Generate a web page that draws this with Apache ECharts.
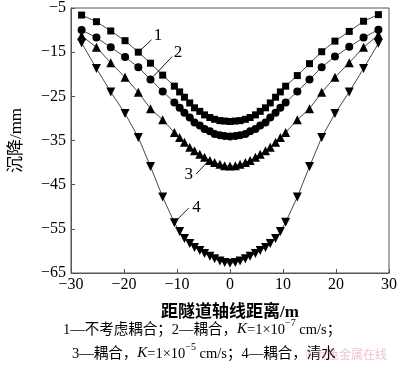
<!DOCTYPE html>
<html>
<head>
<meta charset="utf-8">
<script src="https://cdn.jsdelivr.net/npm/echarts@6/dist/echarts.min.js"></script>
<style>
html,body{margin:0;padding:0;background:#fff;}
#main{width:400px;height:365px;}
</style>
</head>
<body>
<div id="main"></div>
<script>
var xs = [-28, -25.2, -22.5, -19.8, -17.3, -15, -12.7, -10.5, -9.5, -8.6, -7.6, -6.7, -5.7, -4.8, -3.8, -2.9, -1.9, -1.0, 0, 1.0, 1.9, 2.9, 3.8, 4.8, 5.7, 6.7, 7.6, 8.6, 9.5, 10.5, 12.7, 15, 17.3, 19.8, 22.5, 25.2, 28];
var s1 = [-6.6, -8.1, -10.2, -12.4, -15.0, -17.5, -20.2, -22.7, -24.0, -25.2, -26.5, -27.6, -28.4, -29.2, -29.8, -30.2, -30.5, -30.6, -30.7, -30.6, -30.5, -30.2, -29.8, -29.2, -28.4, -27.6, -26.5, -25.2, -24.0, -22.7, -20.3, -17.6, -14.9, -12.5, -10.3, -8.0, -6.5];
var s2 = [-10.0, -11.7, -13.9, -16.1, -18.4, -21.2, -23.9, -26.4, -27.6, -28.7, -29.8, -30.9, -31.6, -32.4, -32.9, -33.5, -33.8, -34.0, -34.1, -34.0, -33.8, -33.5, -32.9, -32.4, -31.6, -30.9, -29.8, -28.7, -27.6, -26.4, -23.9, -21.2, -18.4, -16.0, -13.8, -11.7, -9.9];
var s3 = [-11.3, -13.9, -17.4, -20.7, -24.1, -27.8, -30.3, -33.2, -34.3, -35.4, -36.5, -37.3, -38.1, -38.8, -39.5, -40.0, -40.4, -40.7, -40.8, -40.7, -40.4, -40.0, -39.5, -38.8, -38.1, -37.3, -36.5, -35.4, -34.3, -33.2, -30.3, -27.8, -24.1, -20.7, -17.4, -13.9, -11.1];
var s4 = [-12.9, -18.7, -24.0, -28.9, -34.3, -40.9, -47.8, -53.6, -55.6, -57.2, -58.3, -59.2, -59.9, -60.6, -61.2, -61.8, -62.3, -62.6, -62.8, -62.6, -62.3, -61.8, -61.2, -60.6, -59.9, -59.2, -58.3, -57.2, -55.6, -53.5, -47.8, -40.9, -34.3, -28.9, -24.0, -18.7, -13.0];
var seriesNames = ['1', '2', '3', '4'];
var xTicks = [-30, -20, -10, 0, 10, 20, 30];
var yTicks = [-65, -55, -45, -35, -25, -15, -5];
// annotation leader lines [start, end] and text anchors in data units
var leaderLines = [
  [[-17.1, -14.8], [-14.8, -12.2]],
  [[-14.4, -20.4], [-10.9, -16.0]],
  [[-6.4, -42.6], [-4.2, -39.8]],
  [[-10.3, -53.3], [-7.8, -50.3]]
];
var leaderText = [[-13.6, -11.3], [-9.8, -15.1], [-7.8, -42.8], [-6.3, -50.2]];
var xName = '距隧道轴线距离/m';
var yName = '沉降/mm';

var serif = '"Times New Roman", "Liberation Serif", "Noto Sans CJK SC", serif';
var cjk = '"Times New Roman", "Liberation Serif", "Noto Sans CJK SC", sans-serif';
function fmt(v){ return (v < 0 ? '\u2212' + Math.abs(v) : String(v)); }
function pairs(ys){ return xs.map(function(x, i){ return [x, ys[i]]; }); }

var symbols = ['rect', 'circle', 'triangle', 'triangle'];
var sizes = [7, 8, 9, 9];
var rotates = [0, 0, 0, 180];
var allData = [s1, s2, s3, s4];

var series = allData.map(function(d, k){
  return {
    name: seriesNames[k],
    type: 'line',
    data: pairs(d),
    symbol: symbols[k],
    symbolSize: sizes[k],
    symbolRotate: rotates[k],
    itemStyle: { color: '#000' },
    lineStyle: { color: '#333', width: 0.9 },
    animation: false,
    z: 3,
    markLine: {
      silent: true,
      symbol: ['none', 'none'],
      animation: false,
      lineStyle: { color: '#000', width: 0.9, type: 'solid' },
      label: { show: false },
      data: [[{ coord: leaderLines[k][0] }, { coord: leaderLines[k][1] }]]
    },
    markPoint: {
      silent: true,
      animation: false,
      symbol: 'circle',
      symbolSize: 0,
      label: { show: true, position: 'inside', color: '#000', fontFamily: serif, fontSize: 17, formatter: seriesNames[k] },
      data: [{ coord: leaderText[k] }]
    }
  };
});

var rich = {
  a: { fontFamily: cjk, fontSize: 14.5, fill: '#000', verticalAlign: 'bottom', lineHeight: 19 },
  i: { fontFamily: serif, fontStyle: 'italic', fontSize: 15, fill: '#000', verticalAlign: 'bottom', lineHeight: 19 },
  s: { fontFamily: serif, fontSize: 10, fill: '#000', verticalAlign: 'top', lineHeight: 19 }
};

var chart = echarts.init(document.getElementById('main'), null, { renderer: 'canvas' });
chart.setOption({
  backgroundColor: '#fff',
  animation: false,
  grid: { left: 56, right: 8, top: 3, bottom: 92, show: true, borderColor: '#555', borderWidth: 1 },
  xAxis: {
    type: 'value', min: -30, max: 30, interval: 10,
    name: xName, nameLocation: 'middle', nameGap: 31,
    nameTextStyle: { fontFamily: cjk, fontSize: 17, fontWeight: 'bold', color: '#000' },
    axisLine: { show: true, onZero: false, lineStyle: { color: '#555', width: 1 } },
    axisTick: { show: true, inside: true, length: 4, lineStyle: { color: '#555' } },
    axisLabel: { fontFamily: serif, fontSize: 16, color: '#000', margin: 4, formatter: fmt, showMinLabel: true, showMaxLabel: true },
    splitLine: { show: false }
  },
  yAxis: {
    type: 'value', min: -65, max: -5, interval: 10,
    name: yName, nameLocation: 'middle', nameGap: 46, nameRotate: 90,
    nameTextStyle: { fontFamily: cjk, fontSize: 17, color: '#000' },
    axisLine: { show: true, onZero: false, lineStyle: { color: '#555', width: 1 } },
    axisTick: { show: true, inside: true, length: 4, lineStyle: { color: '#555' } },
    axisLabel: { fontFamily: serif, fontSize: 16, color: '#000', margin: 5, formatter: fmt, showMinLabel: true, showMaxLabel: true },
    splitLine: { show: false }
  },
  series: series,
  graphic: [
    {
      type: 'text', left: 63, top: 318,
      style: { text: '{a|1—不考虑耦合；2—耦合，}{i|K}{a|=1×10}{s|−7}{a| cm/s；}', rich: rich }
    },
    {
      type: 'text', left: 72, top: 342,
      style: { text: '{a|3—耦合，}{i|K}{a|=1×10}{s|−5}{a| cm/s；4—耦合，清水}', rich: rich }
    },
    {
      type: 'text', left: 305, top: 348,
      style: { text: '©有色金属在线', fontFamily: '"Noto Sans CJK SC", sans-serif', fontSize: 12, fill: 'rgba(215,120,130,0.45)' }
    }
  ]
});
</script>
</body>
</html>
